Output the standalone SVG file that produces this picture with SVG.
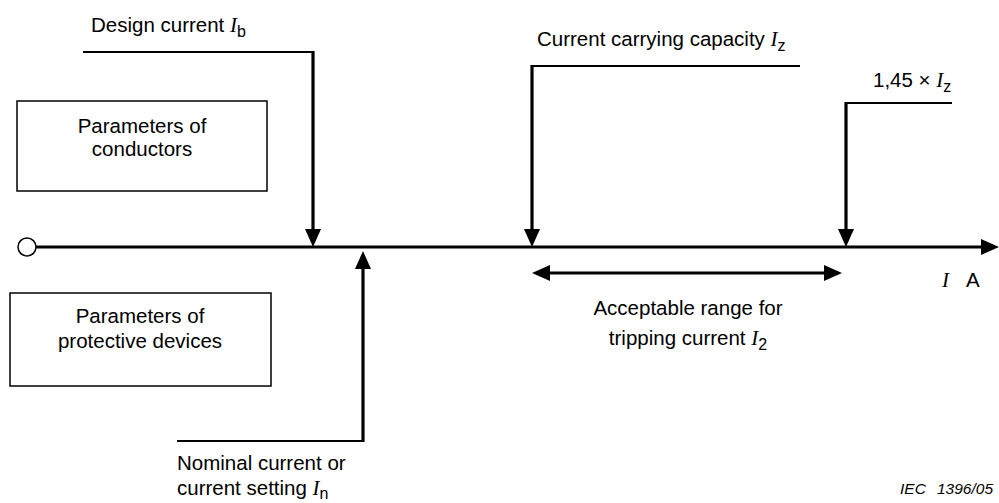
<svg xmlns="http://www.w3.org/2000/svg" width="999" height="503" viewBox="0 0 999 503">
<style>
text{font-family:"Liberation Sans",Arial,sans-serif;font-size:20.5px;fill:#000}
.sym{font-family:"Liberation Serif","Times New Roman",serif;font-style:italic;font-size:21px}
.sub{font-size:16px}
.box{fill:#fff;stroke:#000;stroke-width:1.5}
.lead{fill:none;stroke:#000;stroke-width:2}
.arr{fill:none;stroke:#000;stroke-width:3.2}
.tag{font-style:italic;font-size:15.5px}
</style>
<defs>
<marker id="ah" viewBox="0 0 18 16" refX="14" refY="8" markerWidth="18" markerHeight="16" markerUnits="userSpaceOnUse" orient="auto-start-reverse">
<path d="M0,0 L18,8 L0,16 z" fill="#000"/>
</marker>
</defs>
<rect width="999" height="503" fill="#fff"/>
<g id="connectors">
<line id="axis" class="arr" x1="36" y1="247" x2="995" y2="247" marker-end="url(#ah)"/>
<polyline class="lead" points="83,52 313,52"/>
<line class="arr" x1="313" y1="51" x2="313" y2="243" marker-end="url(#ah)"/>
<polyline class="lead" points="532,66 800,66"/>
<line class="arr" x1="532" y1="65" x2="532" y2="243" marker-end="url(#ah)"/>
<polyline class="lead" points="846,103 952,103"/>
<line class="arr" x1="846" y1="102" x2="846" y2="243" marker-end="url(#ah)"/>
<polyline class="lead" points="177,441 363,441"/>
<line class="arr" x1="363" y1="442" x2="363" y2="255" marker-end="url(#ah)"/>
<line class="arr" x1="536" y1="273" x2="838" y2="273" marker-start="url(#ah)" marker-end="url(#ah)"/>
</g>
<g id="origin"><circle cx="27" cy="247" r="9" fill="#fff" stroke="#000" stroke-width="1.5"/></g>
<g id="conductors">
<rect class="box" x="17" y="101" width="250" height="90"/>
<text x="142" y="133" text-anchor="middle">Parameters of</text>
<text x="142" y="156" text-anchor="middle">conductors</text>
</g>
<g id="protective">
<rect class="box" x="10" y="293" width="261" height="93"/>
<text x="140" y="323" text-anchor="middle">Parameters of</text>
<text x="140" y="348" text-anchor="middle">protective devices</text>
</g>
<g id="label-ib"><text x="91" y="32">Design current <tspan class="sym">I</tspan><tspan class="sub" dy="5">b</tspan></text></g>
<g id="label-iz"><text x="537" y="46">Current carrying capacity <tspan class="sym">I</tspan><tspan class="sub" dy="5">z</tspan></text></g>
<g id="label-145"><text x="873" y="87">1,45 × <tspan class="sym">I</tspan><tspan class="sub" dy="5">z</tspan></text></g>
<g id="label-in">
<text x="177" y="470">Nominal current or</text>
<text x="177" y="495">current setting <tspan class="sym">I</tspan><tspan class="sub" dy="4">n</tspan></text>
</g>
<g id="label-i2">
<text x="688" y="315" text-anchor="middle">Acceptable range for</text>
<text x="688" y="345" text-anchor="middle">tripping current <tspan class="sym">I</tspan><tspan class="sub" dy="5">2</tspan></text>
</g>
<g id="axis-label"><text x="942" y="287"><tspan class="sym">I</tspan></text><text x="966" y="287">A</text></g>
<text class="tag" x="900" y="494">IEC</text>
<text class="tag" x="937" y="494">1396/05</text>
</svg>
